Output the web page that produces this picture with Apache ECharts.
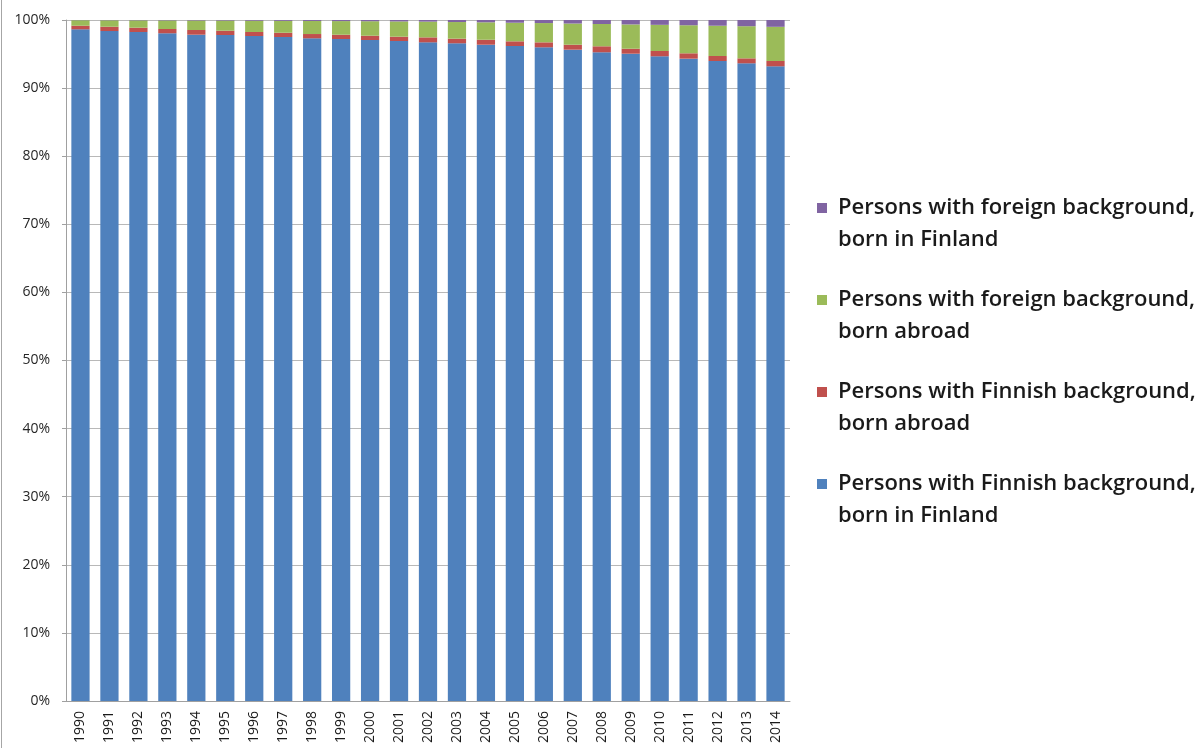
<!DOCTYPE html>
<html>
<head>
<meta charset="utf-8">
<script src="https://cdn.jsdelivr.net/npm/echarts@6/dist/echarts.min.js"></script>
<style>
html,body{margin:0;padding:0;background:#fff;}
#chart{width:1197px;height:748px;}
</style>
</head>
<body>
<div id="chart"></div>
<script>
const years = ['1990','1991','1992','1993','1994','1995','1996','1997','1998','1999','2000','2001','2002','2003','2004','2005','2006','2007','2008','2009','2010','2011','2012','2013','2014'];
const finnishBornFinland = [98.63,98.38,98.24,98.05,97.84,97.80,97.65,97.50,97.31,97.21,97.06,96.92,96.72,96.58,96.37,96.18,95.99,95.64,95.26,95.05,94.67,94.32,93.98,93.64,93.20];
const finnishBornAbroad = [0.53,0.63,0.63,0.63,0.69,0.63,0.59,0.63,0.63,0.63,0.63,0.63,0.73,0.68,0.73,0.69,0.73,0.73,0.88,0.73,0.78,0.79,0.73,0.73,0.78];
const foreignBornAbroad = [0.81,0.95,1.08,1.26,1.40,1.49,1.66,1.75,1.92,2.00,2.13,2.24,2.31,2.44,2.56,2.73,2.83,3.11,3.27,3.57,3.84,4.12,4.45,4.72,5.02];
const foreignBornFinland = [0.03,0.04,0.05,0.06,0.07,0.08,0.10,0.12,0.14,0.16,0.18,0.21,0.24,0.30,0.34,0.40,0.45,0.52,0.59,0.65,0.71,0.77,0.84,0.91,1.00];
const yTicks = [0,10,20,30,40,50,60,70,80,90,100];

const names = {
  fbf: 'Persons with Finnish background,\nborn in Finland',
  fba: 'Persons with Finnish background,\nborn abroad',
  oba: 'Persons with foreign background,\nborn abroad',
  obf: 'Persons with foreign background,\nborn in Finland'
};

const chart = echarts.init(document.getElementById('chart'), null, {renderer:'canvas'});
const font = "'Open Sans', 'Liberation Sans', sans-serif";
function bar(name, data, color){
  return {name:name, type:'bar', stack:'total', data:data, barCategoryGap:'37%',
    itemStyle:{color:color}, emphasis:{disabled:true}};
}
chart.setOption({
  animation:false,
  backgroundColor:'#fff',
  textStyle:{fontFamily:font},
  grid:{left:66, right:407, top:20, bottom:47, containLabel:false},
  graphic:[{type:'line', shape:{x1:1.5,y1:0,x2:1.5,y2:748}, style:{stroke:'#a6a6a6', lineWidth:1}}],
  legend:{
    orient:'vertical', left:817, top:160, padding:0,
    itemWidth:10, itemHeight:10, itemGap:-4,
    icon:'rect',
    data:[names.obf, names.oba, names.fba, names.fbf],
    formatter:function(n){ return ' \n' + n; },
    textStyle:{fontFamily:font, fontSize:22, fontWeight:600, color:'#1a1a1a', lineHeight:32, padding:[0,0,0,6]}
  },
  xAxis:{
    type:'category', data:years,
    axisLine:{lineStyle:{color:'#a0a0a0'}},
    axisTick:{show:false},
    axisLabel:{rotate:90, fontSize:14, color:'#1a1a1a', margin:10, interval:0}
  },
  yAxis:{
    type:'value', min:yTicks[0], max:yTicks[yTicks.length-1], interval:10,
    axisLine:{show:true, lineStyle:{color:'#a0a0a0'}},
    axisTick:{show:true, length:4, lineStyle:{color:'#a0a0a0'}},
    splitLine:{lineStyle:{color:'#b8b8b8'}},
    axisLabel:{formatter:'{value}%', fontSize:14, color:'#262626', margin:16}
  },
  series:[
    bar(names.fbf, finnishBornFinland, '#4F81BD'),
    bar(names.fba, finnishBornAbroad, '#C0504D'),
    bar(names.oba, foreignBornAbroad, '#9BBB59'),
    bar(names.obf, foreignBornFinland, '#8064A2')
  ]
});
</script>
</body>
</html>
